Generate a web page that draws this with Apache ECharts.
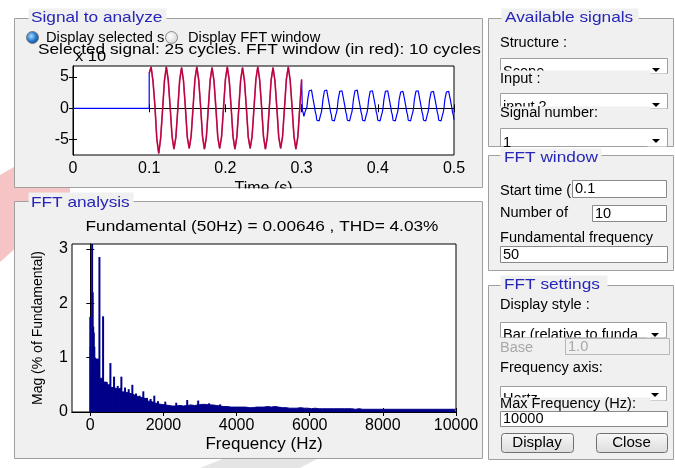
<!DOCTYPE html>
<html><head><meta charset="utf-8">
<script src="https://cdn.jsdelivr.net/npm/echarts@6/dist/echarts.min.js"></script>
<style>html,body{margin:0;padding:0;background:#fff}#c{width:675px;height:468px}</style>
</head><body><div id="c"></div>
<script>
// ---------------- DATA ----------------
// Signal: zero before 0.1 s
const preT = [0, 0.1];
const preV = [0, 0];
// FFT window (0.1 .. 0.3 s), sampled every 2.5 ms
const winT0 = 0.1, winDt = 0.0025;
const winV = [5.6,6.6,4.3,0.4,-4.9,-7.2,-4.8,-0.3,
  4.4,6.6,4.5,0.2,-4.5,-6.5,-4.6,-0.2,
  4.5,6.5,4.4,0.1,-4.6,-6.4,-4.5,0.0,
  4.6,6.6,4.5,0.2,-4.5,-6.5,-4.6,-0.1,
  4.5,6.5,4.4,0.1,-4.6,-6.4,-4.5,0.0,
  4.6,6.6,4.5,0.2,-4.5,-6.5,-4.6,-0.1,
  4.5,6.5,4.4,0.1,-4.6,-6.4,-4.5,0.0,
  4.6,6.6,4.5,0.2,-4.5,-6.5,-4.6,-0.1,
  4.5,6.5,4.4,0.1,-4.6,-6.4,-4.5,0.0,
  4.6,6.6,4.5,0.2,-4.5,-6.5,-4.6,-0.1,
  4.6];
// Rest of the signal (0.3 .. 0.5 s), sampled every 1 ms
const tailT0 = 0.3, tailDt = 0.001;
const tailV = [4.6,-0.3,
  -0.7,-1.3,-0.8,-0.4,-0.3,0.2,1.4,1.5,2.8,2.9,2.9,2.9,2.8,1.5,1.4,0.2,-0.6,-1.0,-1.9,-2.0,
  -2.0,-2.0,-1.9,-1.0,-0.6,0.2,1.4,1.5,2.8,2.9,2.9,2.9,2.8,1.5,1.4,0.2,-0.6,-1.0,-1.9,-2.0,
  -2.0,-2.0,-1.9,-1.0,-0.6,0.2,1.4,1.5,2.7,2.8,2.8,2.8,2.7,1.5,1.4,0.2,-0.6,-1.0,-1.9,-2.0,
  -2.0,-2.0,-1.9,-1.0,-0.6,0.2,1.4,1.5,2.8,2.9,2.9,2.9,2.8,1.5,1.4,0.2,-0.6,-1.0,-1.9,-2.0,
  -2.0,-2.0,-1.9,-1.0,-0.6,0.2,1.4,1.5,2.7,2.8,2.8,2.8,2.7,1.5,1.4,0.2,-0.6,-1.0,-1.9,-2.0,
  -2.0,-2.0,-1.9,-1.0,-0.6,0.2,1.4,1.5,2.7,2.8,2.8,2.8,2.7,1.5,1.4,0.2,-0.6,-1.0,-1.9,-2.0,
  -2.0,-2.0,-1.9,-1.0,-0.6,0.2,1.4,1.5,2.6,2.7,2.7,2.7,2.6,1.5,1.4,0.2,-0.6,-1.0,-1.9,-2.0,
  -2.0,-2.0,-1.9,-1.0,-0.6,0.2,1.4,1.5,2.7,2.8,2.8,2.8,2.7,1.5,1.4,0.2,-0.6,-1.0,-1.9,-2.0,
  -2.0,-2.0,-1.9,-1.0,-0.6,0.2,1.4,1.5,2.6,2.7,2.7,2.7,2.6,1.5,1.4,0.2,-0.6,-1.0,-1.9,-2.0,
  -2.0,-2.0,-1.9,-1.0,-0.6,0.2,1.4,1.5,2.6,2.7,2.7,2.7,2.6,1.5,1.4,0.2,-0.6,-1.0,-1.8];
const timeTicks = [0, 0.1, 0.2, 0.3, 0.4, 0.5];
const sigTicks = [-5, 0, 5];

// FFT spectrum: background envelope (100 Hz bins)
const envHz = [0,100,200,300,400,500,600,700,800,900,
  1000,1100,1200,1300,1400,1500,1600,1700,1800,1900,
  2000,2100,2200,2300,2400,2500,2600,2700,2800,2900,
  3000,3100,3200,3300,3400,3500,3600,3700,3800,3900,
  4000,4100,4200,4300,4400,4500,4600,4700,4800,4900,
  5000,5100,5200,5300,5400,5500,5600,5700,5800,5900,
  6000,6100,6200,6300,6400,6500,6600,6700,6800,6900,
  7000,7100,7200,7300,7400,7500,7600,7700,7800,7900,
  8000,8100,8200,8300,8400,8500,8600,8700,8800,8900,
  9000,9100,9200,9300,9400,9500,9600,9700,9800,9900,10000];
const envMag = [0.75,0.65,0.97,0.62,0.55,0.5,0.45,0.42,0.44,0.37,
  0.35,0.33,0.3,0.27,0.26,0.24,0.2,0.17,0.15,0.14,
  0.13,0.12,0.11,0.11,0.12,0.11,0.12,0.13,0.12,0.13,
  0.14,0.14,0.13,0.13,0.12,0.11,0.1,0.1,0.09,0.09,
  0.09,0.09,0.09,0.08,0.08,0.09,0.09,0.09,0.1,0.09,
  0.1,0.09,0.08,0.08,0.07,0.07,0.07,0.08,0.07,0.07,
  0.06,0.07,0.06,0.06,0.06,0.06,0.06,0.06,0.06,0.06,
  0.06,0.06,0.05,0.06,0.05,0.05,0.05,0.05,0.05,0.05,
  0.05,0.05,0.05,0.05,0.05,0.05,0.05,0.05,0.05,0.05,
  0.05,0.05,0.05,0.05,0.05,0.05,0.05,0.05,0.05,0.05,0.05];
// FFT spectrum: individual components (Hz, % of fundamental)
const spikeHz = [0,10,50,65,80,95,110,130,150,180,210,250,280,350,450,550,650,750,850,950,
  1050,1150,1250,1350,1450,1550,1650,1750,1850,2050,2350,2650,2950,3250,3550];
const spikeMag = [1.75,1.2,100,2.2,1.57,1.46,1.2,1.0,0.95,0.98,0.9,2.85,0.6,1.76,0.55,0.9,0.65,0.48,0.65,0.45,
  0.42,0.5,0.34,0.3,0.38,0.26,0.24,0.3,0.2,0.19,0.17,0.22,0.21,0.16,0.14];
const freqTicks = [0, 2000, 4000, 6000, 8000, 10000];
const magTicks = [0, 1, 2, 3];

// ---------------- BUILD ----------------
const sigData = [];
for (let i = 0; i < preT.length; i++) sigData.push([preT[i], preV[i]]);
const winData = winV.map((v, i) => [+(winT0 + i * winDt).toFixed(4), v]);
const tailData = tailV.map((v, i) => [+(tailT0 + i * tailDt).toFixed(4), v]);
const blueData = sigData.concat(winData, tailData);
const envData = envHz.map((f, i) => [f, envMag[i]]);
const spikeData = spikeHz.map((f, i) => [f, spikeMag[i]]);

const FONT = '"Liberation Sans", Arial, Helvetica, sans-serif';
const BLUE = '#2626b8';
const PANEL = '#f0f0f0';
const BORDER = '#a0a0a0';
const NAVY = '#000088';

function txt(x, y, s, fs, col, sx, al, va, z, width) {
  const st = {text: s, x: 0, y: 0, fill: col || '#000', font: fs + 'px ' + FONT,
    textAlign: al || 'left', textVerticalAlign: va || 'middle', align: al || 'left', verticalAlign: va || 'middle'};
  if (width) { st.width = width; st.overflow = 'truncate'; st.ellipsis = ''; }
  return {type: 'text', x: x, y: y, z: z || 30, scaleX: sx || 1, silent: true, style: st};
}
function box(x, y, w, h, fill, stroke, z, r) {
  return {type: 'rect', z: z === undefined ? 25 : z, silent: true,
    shape: {x: x + 0.5, y: y + 0.5, width: w, height: h, r: r || 0},
    style: {fill: fill, stroke: stroke || null, lineWidth: 1}};
}
function arrow(cx, cy, z) {
  return {type: 'polygon', z: z || 29, silent: true,
    shape: {points: [[cx - 4, cy - 2], [cx + 4, cy - 2], [cx, cy + 2]]}, style: {fill: '#000'}};
}
function dropdown(x, y, w, h, s, textTop, arrowY) {
  return [
    box(x, y, w, h, '#fff', BORDER, 22),
    txt(x + 3, textTop, s, 14, '#000', 1.04, 'left', 'top', 23, (w - 24) / 1.04),
    box(x + w - 20, y + 1, 19, h - 1, '#fff', null, 24),
    arrow(x + w - 11, arrowY, 25)
  ];
}
function input(x, y, w, h, s, disabled) {
  return [
    box(x, y, w, h, disabled ? PANEL : '#fff', disabled ? '#b8b8b8' : '#8a8a8a', 26),
    txt(x + 3, y + h / 2 + 1, s, 14, disabled ? '#a8a8a8' : '#000', 1.04, 'left', 'middle', 27)
  ];
}
function button(x, y, w, h, s) {
  return [
    {type: 'rect', z: 26, silent: true, shape: {x: x + 0.5, y: y + 0.5, width: w, height: h, r: 3},
      style: {fill: {type: 'linear', x: 0, y: 0, x2: 0, y2: 1, colorStops: [{offset: 0, color: '#f8f8f8'}, {offset: 1, color: '#dcdcdc'}]},
        stroke: '#707070', lineWidth: 1}},
    txt(x + w / 2, y + h / 2 + 1, s, 14, '#000', 1.08, 'center', 'middle', 27)
  ];
}
function labelBg(x, y, w, h) { return box(x, y, w, h, PANEL, null, 28); }

let els = [];
// faint watermark behind panels
els.push({type: 'polygon', z: -15, silent: true, shape: {points: [[0, 175], [70, 135], [70, 200], [0, 262]]}, style: {fill: 'rgba(228,70,70,0.32)'}});
els.push({type: 'polygon', z: -15, silent: true, shape: {points: [[200, 468], [240, 452], [330, 452], [300, 468]]}, style: {fill: 'rgba(150,150,150,0.25)'}});
// panels
els.push(box(14, 18, 468, 169, PANEL, BORDER, -10));
els.push(box(14, 201, 468, 257, PANEL, BORDER, -10));
els.push(box(488, 18, 185, 128, PANEL, BORDER, -10));
els.push(box(488, 155, 185, 115, PANEL, BORDER, -10));
els.push(box(488, 285, 185, 174, PANEL, BORDER, -10));
// masks (area outside the panels)
els.push(box(100, 188, 370, 12, '#fff', null, 10));
els.push(box(483, 25, 4, 40, '#fff', null, 40));
// panel titles
els.push(box(28, 8, 138, 20, PANEL, null, 20)); els.push(txt(31, 18, 'Signal to analyze', 15, BLUE, 1.15));
els.push(box(28, 192, 105, 20, PANEL, null, 20)); els.push(txt(31, 203, 'FFT analysis', 15, BLUE, 1.15));
els.push(box(501, 8, 137, 20, PANEL, null, 20)); els.push(txt(505, 18, 'Available signals', 15, BLUE, 1.15));
els.push(box(500, 148, 101, 20, PANEL, null, 20)); els.push(txt(504, 158, 'FFT window', 15, BLUE, 1.15));
els.push(box(500, 275, 107, 20, PANEL, null, 20)); els.push(txt(504, 285, 'FFT settings', 15, BLUE, 1.15));
// radio buttons
els.push({type: 'circle', z: 30, silent: true, shape: {cx: 32.5, cy: 37.5, r: 6},
  style: {fill: {type: 'radial', x: 0.4, y: 0.4, r: 0.6, colorStops: [{offset: 0, color: '#a8dcff'}, {offset: 0.6, color: '#2a7fd0'}, {offset: 1, color: '#114a90'}]}, stroke: '#7a7a7a', lineWidth: 1}});
els.push(txt(46, 38, 'Display selected signal', 14, '#000', 1.05, 'left', 'middle', 30));
els.push(box(164, 29, 170, 18, PANEL, null, 31));
els.push({type: 'circle', z: 32, silent: true, shape: {cx: 171.5, cy: 37.5, r: 6},
  style: {fill: {type: 'radial', x: 0.4, y: 0.4, r: 0.7, colorStops: [{offset: 0, color: '#ffffff'}, {offset: 1, color: '#d0d0d0'}]}, stroke: '#8a8a8a', lineWidth: 1}});
els.push(txt(188, 38, 'Display FFT window', 14, '#000', 1.05, 'left', 'middle', 32));
// plot titles
els.push(txt(75, 57, 'x 10', 15, '#000', 1.1, 'left', 'middle', 30));
els.push(txt(38, 50, 'Selected signal: 25 cycles. FFT window (in red): 10 cycles', 15, '#000', 1.15, 'left', 'middle', 31));
els.push(txt(262, 227, 'Fundamental (50Hz) = 0.00646 , THD= 4.03%', 15, '#000', 1.15, 'center', 'middle', 30));
// Available signals
els.push(txt(500, 43, 'Structure :', 14, '#000', 1.04, 'left', 'middle', 21));
els = els.concat(dropdown(500, 58, 167, 15, 'Scope', 65, 70));
els.push(labelBg(498, 70, 152, 21)); els.push(txt(500, 79, 'Input :', 14, '#000', 1.04, 'left', 'middle', 29));
els = els.concat(dropdown(500, 93, 167, 15, 'input 2', 100, 105));
els.push(labelBg(498, 106, 152, 20)); els.push(txt(500, 113, 'Signal number:', 14, '#000', 1.04, 'left', 'middle', 29));
els = els.concat(dropdown(500, 128, 167, 18, '1', 136, 141));
// FFT window
els.push(txt(500, 191, 'Start time (s):', 14, '#000', 1.04, 'left', 'middle', 21));
els = els.concat(input(572, 180, 94, 17, '0.1'));
els.push(txt(500, 213, 'Number of', 14, '#000', 1.04, 'left', 'middle', 21));
els = els.concat(input(592, 205, 74, 16, '10'));
els.push(txt(500, 238, 'Fundamental frequency', 14, '#000', 1.04, 'left', 'middle', 21));
els = els.concat(input(500, 246, 167, 16, '50'));
// FFT settings
els.push(txt(500, 305, 'Display style :', 14, '#000', 1.04, 'left', 'middle', 21));
els = els.concat(dropdown(500, 322, 166, 15, 'Bar (relative to fundamental)', 328, 335));
els.push(labelBg(498, 337, 152, 19));
els.push(txt(500, 348, 'Base', 14, '#a8a8a8', 1.04, 'left', 'middle', 29));
els = els.concat(input(565, 338, 104, 16, '1.0', true).map(e => { e.z += 4; return e; }));
els.push(txt(500, 368, 'Frequency axis:', 14, '#000', 1.04, 'left', 'middle', 21));
els = els.concat(dropdown(500, 386, 166, 14, 'Hertz', 392, 395));
els.push(labelBg(498, 397, 152, 13)); els.push(txt(500, 404, 'Max Frequency (Hz):', 14, '#000', 1.04, 'left', 'middle', 29));
els = els.concat(input(500, 411, 167, 15, '10000'));
els = els.concat(button(501, 433, 72, 19, 'Display'));
els = els.concat(button(596, 433, 71, 19, 'Close'));

const axLine = {show: true, lineStyle: {color: '#000', width: 1}};
const lblStyle = {color: '#000', fontSize: 16, fontFamily: FONT, formatter: v => String(v)};

const option = {
  animation: false,
  backgroundColor: '#ffffff',
  textStyle: {fontFamily: FONT},
  grid: [
    {left: 73, top: 66, width: 381, height: 89, show: true, backgroundColor: '#fff', borderColor: '#000', borderWidth: 1, containLabel: false, outerBoundsMode: 'none'},
    {left: 72, top: 244, width: 384, height: 168, show: true, backgroundColor: '#fff', borderColor: '#000', borderWidth: 1, containLabel: false, outerBoundsMode: 'none'}
  ],
  xAxis: [
    {gridIndex: 0, type: 'value', min: 0, max: 0.5, position: 'bottom', axisLine: axLine,
      axisTick: {inside: true, length: 4, lineStyle: {color: '#000'}, customValues: timeTicks},
      axisLabel: Object.assign({margin: 6, customValues: timeTicks}, lblStyle), splitLine: {show: false},
      name: 'Time (s)', nameLocation: 'middle', nameGap: 26, nameTextStyle: {color: '#000', fontSize: 16, fontFamily: FONT}},
    {gridIndex: 0, type: 'value', min: 0, max: 0.5, position: 'top', axisLine: axLine,
      axisTick: {inside: true, length: 4, lineStyle: {color: '#000'}, customValues: timeTicks},
      axisLabel: {show: false}, splitLine: {show: false}},
    {gridIndex: 1, type: 'value', min: -500, max: 10000, position: 'bottom', axisLine: axLine,
      axisTick: {inside: true, length: 4, lineStyle: {color: '#000'}, customValues: freqTicks},
      axisLabel: Object.assign({margin: 6, customValues: freqTicks}, lblStyle), splitLine: {show: false},
      name: 'Frequency (Hz)', nameLocation: 'middle', nameGap: 24, nameTextStyle: {color: '#000', fontSize: 17, fontFamily: FONT}},
    {gridIndex: 1, type: 'value', min: -500, max: 10000, position: 'top', axisLine: axLine,
      axisTick: {inside: true, length: 4, lineStyle: {color: '#000'}, customValues: freqTicks},
      axisLabel: {show: false}, splitLine: {show: false}}
  ],
  yAxis: [
    {gridIndex: 0, type: 'value', min: -7.45, max: 6.75, position: 'left', axisLine: axLine,
      axisTick: {inside: true, length: 4, lineStyle: {color: '#000'}, customValues: sigTicks},
      axisLabel: Object.assign({margin: 4, customValues: sigTicks}, lblStyle), splitLine: {show: false}},
    {gridIndex: 0, type: 'value', min: -7.45, max: 6.75, position: 'right', axisLine: axLine,
      axisTick: {inside: true, length: 4, lineStyle: {color: '#000'}, customValues: sigTicks},
      axisLabel: {show: false}, splitLine: {show: false}},
    {gridIndex: 1, type: 'value', min: 0, max: 3.09, position: 'left', axisLine: axLine,
      axisTick: {inside: true, length: 4, lineStyle: {color: '#000'}, customValues: magTicks},
      axisLabel: Object.assign({margin: 4, customValues: magTicks}, lblStyle), splitLine: {show: false},
      name: 'Mag (% of Fundamental)', nameLocation: 'middle', nameGap: 27, nameRotate: 90,
      nameTextStyle: {color: '#000', fontSize: 14, fontFamily: FONT}},
    {gridIndex: 1, type: 'value', min: 0, max: 3.09, position: 'right', axisLine: axLine,
      axisTick: {inside: true, length: 4, lineStyle: {color: '#000'}, customValues: magTicks},
      axisLabel: {show: false}, splitLine: {show: false}}
  ],
  series: [
    {name: 'Signal', type: 'line', xAxisIndex: 0, yAxisIndex: 0, data: blueData, showSymbol: false,
      lineStyle: {color: '#0000ff', width: 1.2}, z: 2},
    {name: 'FFT window', type: 'line', xAxisIndex: 0, yAxisIndex: 0, data: winData, showSymbol: false,
      lineStyle: {color: 'rgba(255,0,0,0.72)', width: 1.7}, z: 3},
    {name: 'Spectrum', type: 'line', step: 'middle', xAxisIndex: 2, yAxisIndex: 2, data: envData, showSymbol: false,
      lineStyle: {color: NAVY, width: 1}, areaStyle: {color: NAVY, opacity: 1}, z: 2},
    {name: 'Components', type: 'bar', xAxisIndex: 3, yAxisIndex: 2, data: spikeData, barWidth: 2, barMinWidth: 2,
      itemStyle: {color: NAVY}, z: 3}
  ],
  graphic: {elements: els}
};
const chart = echarts.init(document.getElementById('c'), null, {renderer: 'canvas'});
chart.setOption(option);
</script></body></html>
